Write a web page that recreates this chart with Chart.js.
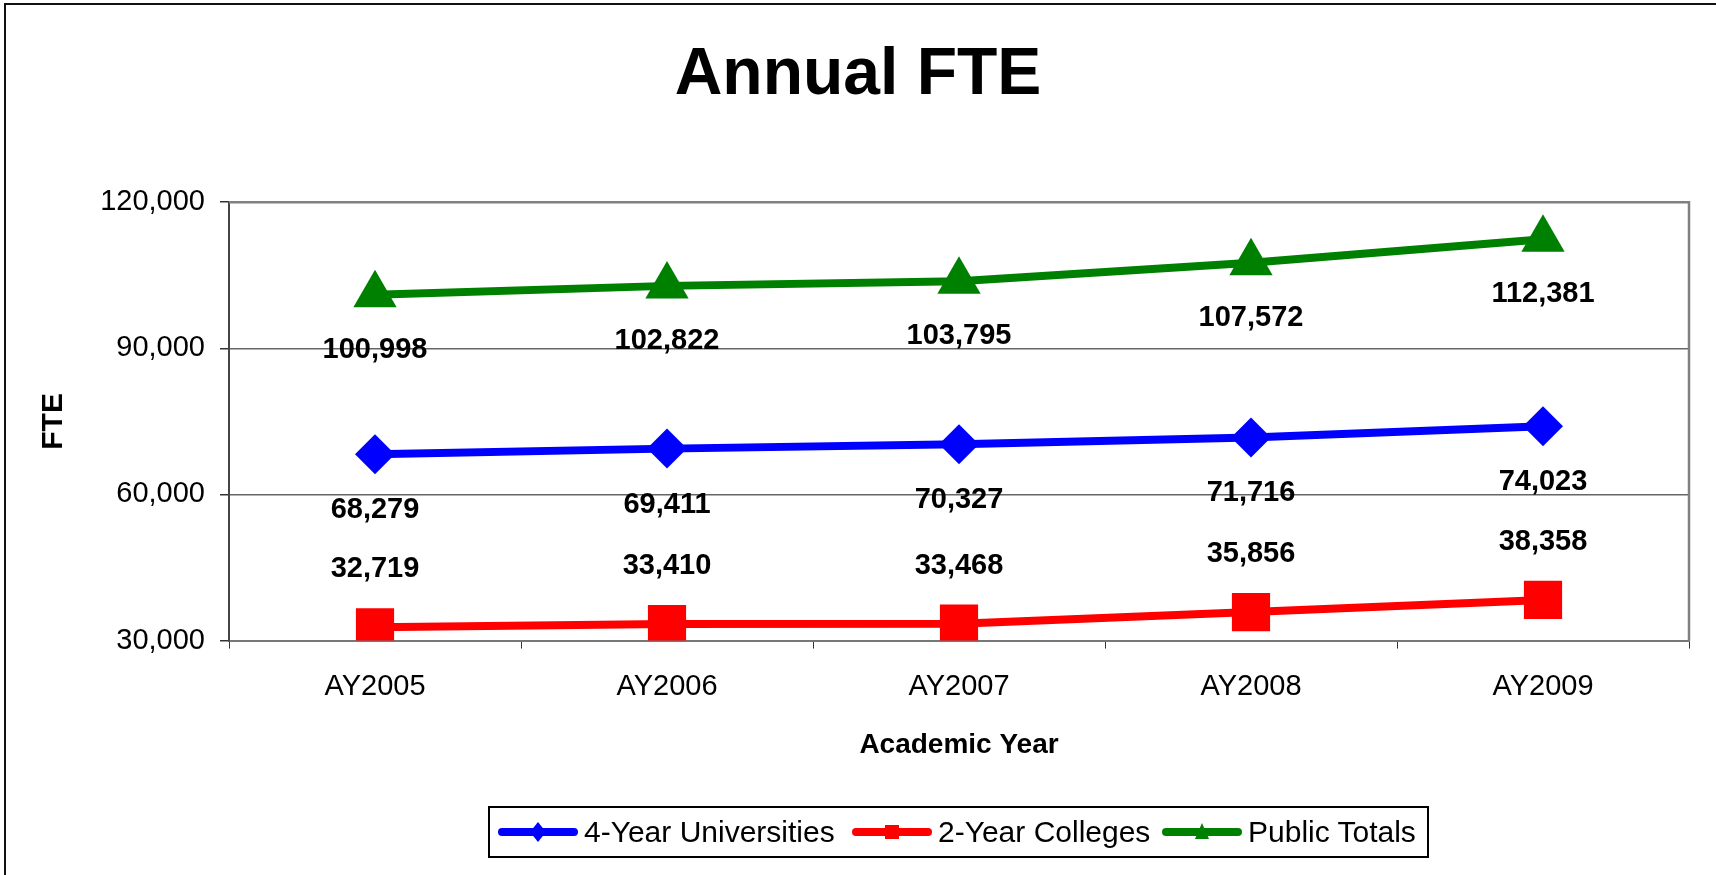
<!DOCTYPE html>
<html>
<head>
<meta charset="utf-8">
<script src="https://cdn.jsdelivr.net/npm/chart.js@4"></script>
<style>
  html, body { margin: 0; padding: 0; background: #fff; }
  #wrap { position: relative; width: 1716px; height: 875px; overflow: hidden; }
  #frame { position: absolute; left: 4px; top: 3px; width: 1720px; height: 880px;
           border-left: 2px solid #111; border-top: 2px solid #111; }
  canvas { position: absolute; left: 0; top: 0; }
  #legend { position: absolute; left: 488px; top: 806px; width: 937px; height: 48px;
            border: 2px solid #000;
            font-family: "Liberation Sans", Arial, sans-serif; font-size: 30px; color: #000; }
  #legend .item { position: absolute; top: 0; height: 48px; display: flex; align-items: center; white-space: nowrap; }
  #legend svg { margin-right: 6px; }
</style>
</head>
<body>
<div id="wrap">
  <div id="frame"></div>
  <canvas id="myChart" width="1716" height="875"></canvas>
  <div id="legend"></div>
</div>
<script>
// dados do gráfico
const anos = ['AY2005', 'AY2006', 'AY2007', 'AY2008', 'AY2009'];
const universidades4 = [68279, 69411, 70327, 71716, 74023];
const faculdades2 = [32719, 33410, 33468, 35856, 38358];
const totaisPublicos = [100998, 102822, 103795, 107572, 112381];
const nomesSeries = ['4-Year Universities', '2-Year Colleges', 'Public Totals'];
const ticksY = [30000, 60000, 90000, 120000];

const fonte = '"Liberation Sans", Arial, sans-serif';
const fmt = v => v.toLocaleString('en-US');

// rótulos de dados (acima ou abaixo do ponto)
const rotulosPlugin = {
  id: 'rotulos',
  afterDatasetsDraw(chart) {
    const ctx = chart.ctx;
    ctx.save();
    ctx.font = 'bold 29px ' + fonte;
    ctx.fillStyle = '#000';
    ctx.textAlign = 'center';
    ctx.textBaseline = 'middle';
    chart.data.datasets.forEach((ds, i) => {
      const meta = chart.getDatasetMeta(i);
      meta.data.forEach((pt, j) => {
        ctx.fillText(fmt(ds.data[j]), pt.x, pt.y + ds.offsetRotulo);
      });
    });
    ctx.restore();
  }
};

// borda da área do gráfico
const bordaPlugin = {
  id: 'borda',
  beforeDatasetsDraw(chart) {
    const {ctx, chartArea: a} = chart;
    ctx.save();
    ctx.strokeStyle = '#808080';
    ctx.lineWidth = 2.5;
    ctx.beginPath();
    ctx.moveTo(a.left, a.top);
    ctx.lineTo(a.right, a.top);
    ctx.lineTo(a.right, a.bottom);
    ctx.stroke();
    ctx.restore();
  }
};

const ctx = document.getElementById('myChart').getContext('2d');
const myChart = new Chart(ctx, {
  type: 'line',
  data: {
    labels: anos,
    datasets: [
      {
        label: nomesSeries[0],
        data: universidades4,
        borderColor: '#0000ff',
        backgroundColor: '#0000ff',
        borderWidth: 8,
        pointStyle: 'rectRot',
        pointRadius: 20,
        pointBorderWidth: 0,
        offsetRotulo: 56
      },
      {
        label: nomesSeries[1],
        data: faculdades2,
        borderColor: '#ff0000',
        backgroundColor: '#ff0000',
        borderWidth: 8,
        pointStyle: 'rect',
        pointRadius: 27,
        pointBorderWidth: 0,
        offsetRotulo: -58
      },
      {
        label: nomesSeries[2],
        data: totaisPublicos,
        borderColor: '#008000',
        backgroundColor: '#008000',
        borderWidth: 8,
        pointStyle: 'triangle',
        pointRadius: 25,
        pointBorderWidth: 0,
        offsetRotulo: 55
      }
    ]
  },
  options: {
    responsive: false,
    animation: false,
    layout: { padding: { top: 0, left: 23, right: 23, bottom: 113 } },
    plugins: {
      legend: { display: false },
      tooltip: { enabled: false },
      title: {
        display: true,
        text: 'Annual FTE',
        color: '#000',
        font: { family: fonte, size: 66, weight: 'bold', lineHeight: 1.2 },
        padding: { top: 36, bottom: 87 }
      }
    },
    scales: {
      x: {
        offset: true,
        grid: { display: true, drawOnChartArea: false, drawTicks: true, tickLength: 8, tickColor: '#333', offset: true },
        border: { color: '#777', width: 2 },
        ticks: { color: '#000', padding: 21, font: { family: fonte, size: 29 } },
        title: {
          display: true,
          text: 'Academic Year',
          color: '#000',
          font: { family: fonte, size: 28, weight: 'bold', lineHeight: 1.2 },
          padding: { top: 3, bottom: 0 }
        }
      },
      y: {
        min: ticksY[0],
        max: ticksY[ticksY.length - 1],
        afterBuildTicks: scale => { scale.ticks = ticksY.map(v => ({ value: v })); },
        afterFit: scale => { scale.width = 206; },
        grid: { color: '#666', lineWidth: 1.5, tickLength: 9, tickColor: '#333' },
        border: { color: '#444', width: 2 },
        ticks: { color: '#000', padding: 15, font: { family: fonte, size: 29 }, callback: v => fmt(v) },
        title: {
          display: true,
          text: 'FTE',
          color: '#000',
          font: { family: fonte, size: 30, weight: 'bold', lineHeight: 1.2 },
          padding: { top: 13, bottom: 0 }
        }
      }
    }
  },
  plugins: [bordaPlugin, rotulosPlugin]
});

// legenda em HTML com linha + marcador
const posLegenda = [8, 362, 672];
const legenda = document.getElementById('legend');
myChart.data.datasets.forEach((ds, i) => {
  const cor = ds.borderColor;
  let marca = '';
  if (ds.pointStyle === 'rectRot') marca = `<polygon points="40,2 48,12 40,22 32,12" fill="${cor}"/>`;
  else if (ds.pointStyle === 'rect') marca = `<rect x="33" y="5" width="14" height="14" fill="${cor}"/>`;
  else marca = `<polygon points="40,3 47,19 33,19" fill="${cor}"/>`;
  const item = document.createElement('div');
  item.className = 'item';
  item.style.left = posLegenda[i] + 'px';
  item.innerHTML = `<svg width="80" height="24"><line x1="4" y1="12" x2="76" y2="12" stroke="${cor}" stroke-width="8" stroke-linecap="round"/>${marca}</svg><span>${ds.label}</span>`;
  legenda.appendChild(item);
});
</script>
</body>
</html>
